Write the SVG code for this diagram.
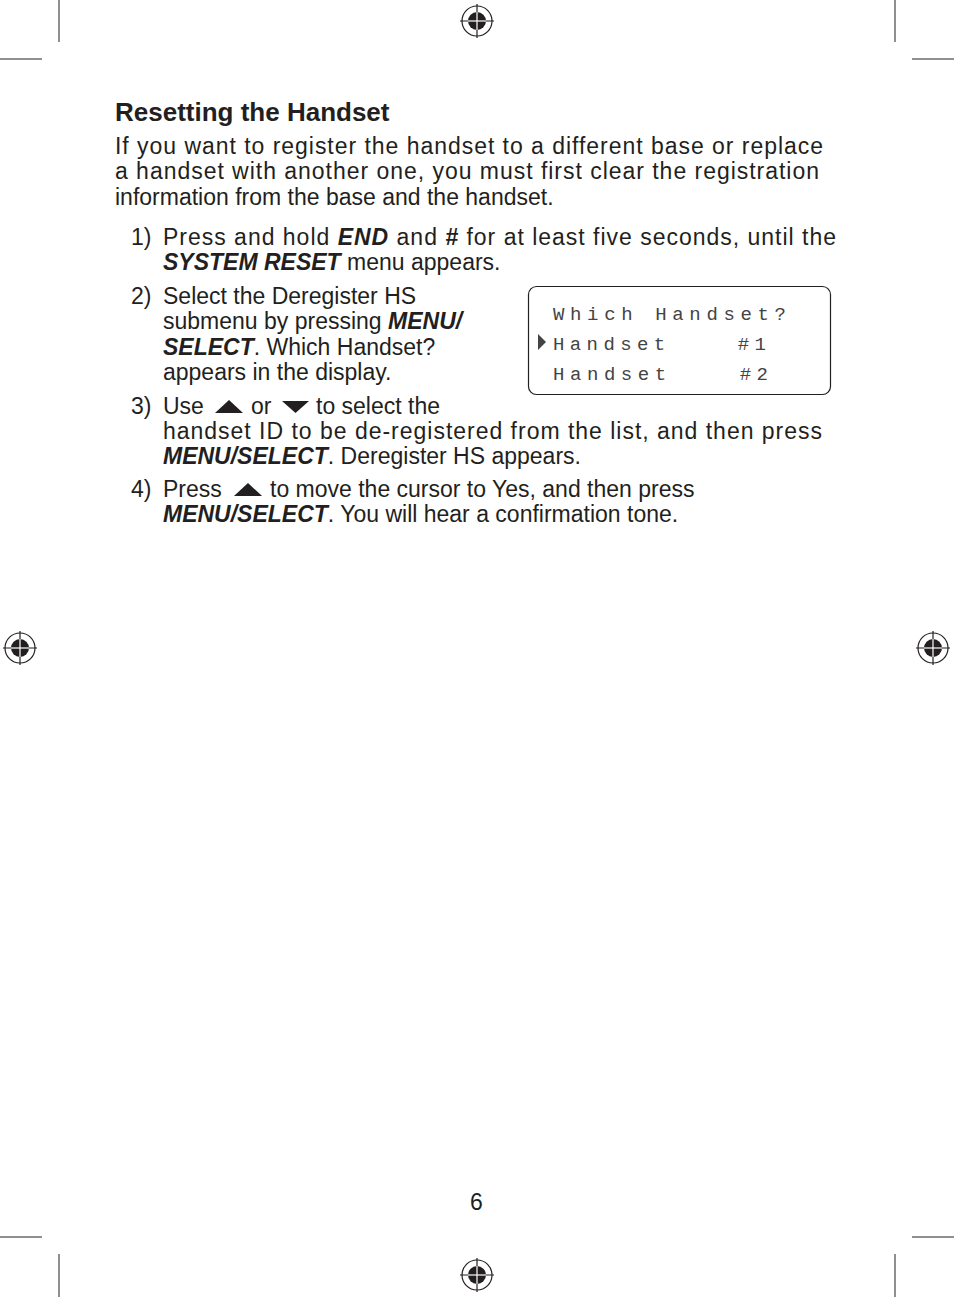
<svg xmlns="http://www.w3.org/2000/svg" xmlns:xlink="http://www.w3.org/1999/xlink" width="954" height="1297" viewBox="0 0 954 1297">
<style>
text{font-family:"Liberation Sans",Arial,sans-serif;fill:#231f20}
.b{font-size:23px}
.h{font-size:26px;font-weight:bold}
.bi{font-weight:bold;font-style:italic}
.lcd{font-family:"Liberation Mono","DejaVu Sans Mono",monospace;font-size:19px;fill:#444}
.cm{stroke:#231f20;stroke-width:1}
</style>
<defs>
<g id="reg">
<circle r="15" fill="none" stroke="#231f20" stroke-width="1.2"/>
<circle r="9" fill="#231f20"/>
<line x1="-17" y1="0" x2="17" y2="0" stroke="#231f20" stroke-width="1.2"/>
<line x1="0" y1="-17" x2="0" y2="17" stroke="#231f20" stroke-width="1.2"/>
<line x1="-9" y1="0" x2="9" y2="0" stroke="#fff" stroke-width="1.2"/>
<line x1="0" y1="-9" x2="0" y2="9" stroke="#fff" stroke-width="1.2"/>
</g>
</defs>
<rect width="954" height="1297" fill="#fff"/>
<g id="marks">
<line class="cm" x1="59" y1="0" x2="59" y2="42"/><line class="cm" x1="895" y1="0" x2="895" y2="42"/>
<line class="cm" x1="0" y1="59" x2="42" y2="59"/><line class="cm" x1="912" y1="59" x2="954" y2="59"/>
<line class="cm" x1="0" y1="1237" x2="42" y2="1237"/><line class="cm" x1="912" y1="1237" x2="954" y2="1237"/>
<line class="cm" x1="59" y1="1254" x2="59" y2="1297"/><line class="cm" x1="895" y1="1254" x2="895" y2="1297"/>
<use xlink:href="#reg" x="477" y="21"/><use xlink:href="#reg" x="20" y="648"/>
<use xlink:href="#reg" x="933" y="648"/><use xlink:href="#reg" x="477" y="1275"/>
</g>
<g id="text">
<text class="h" x="115" y="121">Resetting the Handset</text>
<text class="b" x="115" y="154" textLength="708">If you want to register the handset to a different base or replace</text>
<text class="b" x="115" y="179" textLength="704">a handset with another one, you must first clear the registration</text>
<text class="b" x="115" y="205">information from the base and the handset.</text>
<text class="b" x="131" y="245">1)</text>
<text class="b" x="163" y="245" textLength="673">Press and hold <tspan class="bi">END</tspan> and <tspan class="bi">#</tspan> for at least five seconds, until the</text>
<text class="b" x="163" y="270"><tspan class="bi">SYSTEM RESET</tspan> menu appears.</text>
<text class="b" x="131" y="304">2)</text>
<text class="b" x="163" y="304">Select the Deregister HS</text>
<text class="b" x="163" y="329">submenu by pressing <tspan class="bi">MENU/</tspan></text>
<text class="b" x="163" y="355"><tspan class="bi">SELECT</tspan>. Which Handset?</text>
<text class="b" x="163" y="380">appears in the display.</text>
<text class="b" x="131" y="414">3)</text>
<text class="b" x="163" y="414">Use</text>
<text class="b" x="251" y="414">or</text>
<text class="b" x="316" y="414">to select the</text>
<text class="b" x="163" y="439" textLength="659">handset ID to be de-registered from the list, and then press</text>
<text class="b" x="163" y="464"><tspan class="bi">MENU/SELECT</tspan>. Deregister HS appears.</text>
<text class="b" x="131" y="497">4)</text>
<text class="b" x="163" y="497">Press</text>
<text class="b" x="270" y="497">to move the cursor to Yes, and then press</text>
<text class="b" x="163" y="522"><tspan class="bi">MENU/SELECT</tspan>. You will hear a confirmation tone.</text>
<text class="b" x="470" y="1210">6</text>
</g>
<g id="icons" fill="#231f20">
<polygon points="215,413 229,400 243,413"/>
<polygon points="282,401 309,401 295.5,413"/>
<polygon points="234,496 248,483 262,496"/>
</g>
<g id="lcd">
<rect x="528.5" y="286.5" width="302" height="108" rx="8" fill="#fff" stroke="#231f20" stroke-width="1.2"/>
<text class="lcd" x="553" y="320" textLength="233">Which Handset?</text>
<polygon points="538,334 546,342 538,350" fill="#444"/>
<text class="lcd" x="553" y="350" textLength="213" xml:space="preserve">Handset    #1</text>
<text class="lcd" x="553" y="380" textLength="215" xml:space="preserve">Handset    #2</text>
</g>
</svg>
